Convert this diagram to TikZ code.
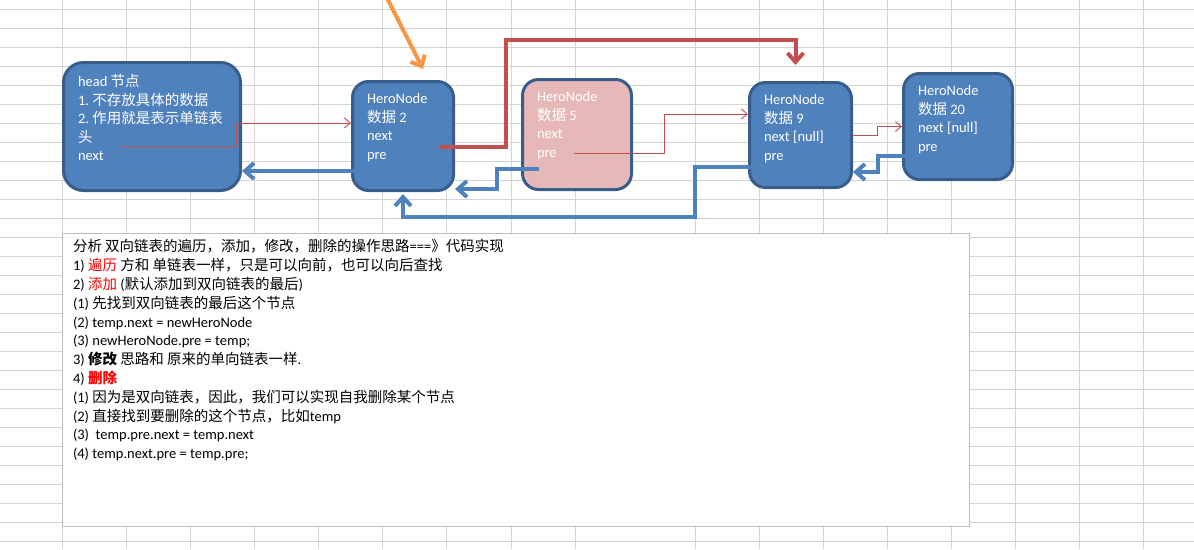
\documentclass[tikz,border=0pt]{standalone}
\usepackage{fontspec}
\setmainfont{Carlito}
\newfontfamily\zhfont{Noto Sans CJK SC}
\usetikzlibrary{arrows.meta}
\definecolor{azul}{RGB}{79,129,189}
\definecolor{borde}{RGB}{56,93,138}
\definecolor{rosa}{RGB}{230,185,184}
\definecolor{rojo}{RGB}{192,80,77}
\definecolor{naranja}{RGB}{247,150,70}
\definecolor{rejillac}{RGB}{212,212,212}
\definecolor{grisb}{RGB}{190,190,190}
\newcommand\zh[1]{{\zhfont#1}}
\newcommand\contenido[3]{\parbox[t][#2pt][t]{#1pt}{\raggedright#3}}
\tikzset{
  nodo/.style={draw=borde, fill=azul, line width=3pt, rounded corners=16pt, inner xsep=14.5pt, inner ysep=12pt, anchor=north west, text=white},
  nodorosa/.style={nodo, fill=rosa},
  nota/.style={draw=grisb, fill=white, line width=1pt, inner xsep=10.5pt, inner ysep=6.2pt, anchor=north west, text=black, font=\fontsize{14.5}{18.8}\selectfont},
  rejilla/.style={line width=1pt, rejillac},
  flazul/.style={-{Straight Barb[length=9pt,width=16pt]}, line width=4pt, azul},
  flroja/.style={-{Straight Barb[length=9pt,width=16pt]}, line width=4pt, rojo},
  flnaranja/.style={-{Straight Barb[length=9pt,width=16pt]}, line width=4pt, naranja},
  flfina/.style={-{Straight Barb[length=6pt,width=10pt]}, line width=0.9pt, rojo},
}
\begin{document}
\begin{tikzpicture}[x=1pt,y=-1pt,font=\fontsize{14.5}{18.5}\selectfont]
  \useasboundingbox (0,0) rectangle (1194,549);
  % hoja de calculo
  \foreach \x in {62,126,190,254,318,382,446,511,575,695,759,823,887,951,1015,1079,1143}
    \draw[rejilla] (\x,0) -- (\x,549);
  \foreach \k in {0,...,28}
    \draw[rejilla] (0,{9.5+19*\k}) -- (1194,{9.5+19*\k});
  % texto
  \node[nota] (txt) at (62,233) {\contenido{886}{281}{%
    \zh{分析 双向链表的遍历，添加，修改，删除的操作思路}===\zh{》代码实现}\\
    1) \zh{\color{red}遍历} \zh{方和 单链表一样，只是可以向前，也可以向后查找}\\
    2) \zh{\color{red}添加} (\zh{默认添加到双向链表的最后})\\
    (1) \zh{先找到双向链表的最后这个节点}\\
    (2) temp.next = newHeroNode\\
    (3) newHeroNode.pre = temp;\\
    3) \textbf{\zh{修改}} \zh{思路和 原来的单向链表一样}.\\
    4) \textbf{\color{red}\zh{删除}}\\
    (1) \zh{因为是双向链表，因此，我们可以实现自我删除某个节点}\\
    (2) \zh{直接找到要删除的这个节点，比如}temp\\
    (3)\ \ temp.pre.next = temp.next\\
    (4) temp.next.pre = temp.pre;}};
  % nodos
  \node[nodo, rounded corners=20pt] (head) at (62,61) {\contenido{148}{104}{head~\zh{节点}\\1.~\zh{不存放具体的数据}\\2.~\zh{作用就是表示单链表}\\\zh{头}\\next}};
  \node[nodo] (n2) at (351,80) {\contenido{72}{85}{HeroNode\\\zh{数据}~2\\next\\pre}};
  \node[nodorosa] (n5) at (521,78) {\contenido{80}{86}{HeroNode\\\zh{数据}~5\\next\\pre}};
  \node[nodo] (n9) at (748,81) {\contenido{73}{81}{HeroNode\\\zh{数据}~9\\next~[null]\\pre}};
  \node[nodo] (n20) at (902,72) {\contenido{80}{82}{HeroNode\\\zh{数据}~20\\next~[null]\\pre}};
  % puntos de salida
  \coordinate (ini) at (387,-2);
  \coordinate (h1) at (122,146);
  \coordinate (b2) at (357,171);
  \coordinate (r2) at (440,147);
  \coordinate (r5) at (574,153);
  \coordinate (b5) at (539,169);
  \coordinate (b9) at (758,167);
  \coordinate (b20) at (907,156);
  % enlaces
  \draw[flnaranja] (ini) -- ([xshift=20pt,yshift=11pt]n2.north);
  \draw[flfina] (h1) -- ++(114,0) |- ([yshift=13pt]n2.west);
  \draw[flazul] (b2) -- (b2 -| head.east);
  \draw[flroja] (r2) -- ++(66,0) -- ++(0,-107) -| ([xshift=-5pt,yshift=16pt]n9.north);
  \draw[flfina] (r5) -- ++(90,0) |- ([yshift=21pt]n9.west);
  \draw[flazul] (b5) -- ++(-42,0) |- ([yshift=-53pt]n2.east);
  \draw[flazul] (b9) -- ++(-63,0) -- ++(0,50) -| ([yshift=-2pt]n2.south);
  \draw[flfina] (n9.east) -- ++(24,0) |- (n20.west);
  \draw[flazul] (b20) -- ++(-29,0) |- ([yshift=-37pt]n9.east);
\end{tikzpicture}
\end{document}
